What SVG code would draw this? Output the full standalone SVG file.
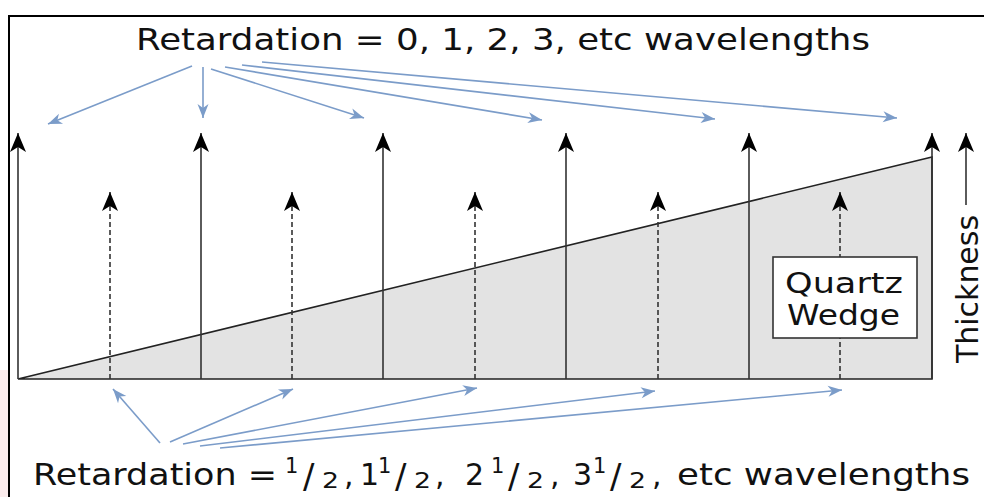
<svg xmlns="http://www.w3.org/2000/svg" width="984" height="497" viewBox="0 0 984 497">
<style>
.t{font-family:"DejaVu Sans","Liberation Sans",sans-serif;fill:#111;}
.sol{stroke:#333;stroke-width:1.6;fill:none;marker-end:url(#blk);}
.dash{stroke:#333;stroke-width:1.6;fill:none;stroke-dasharray:5 3;marker-end:url(#blk);}
.blue{stroke:#7b9cc9;stroke-width:1.6;fill:none;marker-end:url(#blu);}
.sl{font-size:34px;}
.sp{font-size:21px;}
.sb{font-size:22px;}
</style>
<defs>
<marker id="blk" markerUnits="userSpaceOnUse" viewBox="-20 -9 21 18" markerWidth="21" markerHeight="18" refX="0" refY="0" orient="auto" overflow="visible">
<path d="M0,0 L-19,-8 L-14,0 L-19,8 Z" fill="#000"/>
</marker>
<marker id="blu" markerUnits="userSpaceOnUse" viewBox="-14 -6 15 12" markerWidth="15" markerHeight="12" refX="0" refY="0" orient="auto" overflow="visible">
<path d="M0,0 L-14,-5.5 L-10,0 L-14,5.5 Z" fill="#7b9cc9"/>
</marker>
</defs>
<rect width="984" height="497" fill="#fff"/>
<rect x="0" y="370" width="8" height="127" fill="#fbeced"/>
<path d="M9,497 V16 H984" fill="none" stroke="#000" stroke-width="2"/>

<g id="wedge">
<polygon points="18,379 932,157 932,379" fill="#e3e3e3" stroke="#222" stroke-width="1.6"/>
</g>

<g id="connectors">
<line class="sol" x1="18" y1="379" x2="18" y2="133"/>
<line class="sol" x1="201" y1="379" x2="201" y2="133"/>
<line class="sol" x1="383" y1="379" x2="383" y2="133"/>
<line class="sol" x1="566" y1="379" x2="566" y2="133"/>
<line class="sol" x1="749" y1="379" x2="749" y2="133"/>
<line class="sol" x1="932" y1="379" x2="932" y2="133"/>
<line class="dash" x1="110" y1="379" x2="110" y2="192"/>
<line class="dash" x1="292" y1="379" x2="292" y2="192"/>
<line class="dash" x1="475" y1="379" x2="475" y2="192"/>
<line class="dash" x1="658" y1="379" x2="658" y2="192"/>
<line class="dash" x1="840" y1="379" x2="840" y2="192"/>
<line class="sol" x1="966" y1="205" x2="966" y2="133"/>

<line class="blue" x1="192" y1="66" x2="48" y2="124"/>
<line class="blue" x1="203" y1="67" x2="203" y2="118"/>
<line class="blue" x1="211" y1="69" x2="364" y2="118"/>
<line class="blue" x1="225" y1="67" x2="542" y2="120"/>
<line class="blue" x1="242" y1="65" x2="715" y2="119"/>
<line class="blue" x1="262" y1="62" x2="897" y2="118"/>

<line class="blue" x1="160" y1="443" x2="113" y2="389"/>
<line class="blue" x1="170" y1="442" x2="293" y2="389"/>
<line class="blue" x1="183" y1="444" x2="477" y2="388"/>
<line class="blue" x1="200" y1="446" x2="655" y2="391"/>
<line class="blue" x1="220" y1="448" x2="842" y2="390"/>
</g>

<g id="quartz-wedge">
<rect x="773" y="257" width="144" height="81" fill="#fff" stroke="#333" stroke-width="1.6"/>
<text class="t" x="785" y="293" font-size="29" textLength="118" lengthAdjust="spacingAndGlyphs">Quartz</text>
<text class="t" x="787" y="325" font-size="29" textLength="113" lengthAdjust="spacingAndGlyphs">Wedge</text>
</g>

<g id="thickness">
<text class="t" transform="translate(978,363) rotate(-90)" font-size="31" textLength="148" lengthAdjust="spacingAndGlyphs">Thickness</text>
</g>

<g id="top-label">
<text class="t" x="136" y="50" font-size="31" textLength="734" lengthAdjust="spacingAndGlyphs">Retardation = 0, 1, 2, 3, etc wavelengths</text>
</g>

<g id="bottom-label">
<text class="t" font-size="30" y="485">
<tspan x="33" textLength="244" lengthAdjust="spacingAndGlyphs">Retardation =</tspan>
<tspan class="sp" x="285" y="473">1</tspan>
<tspan class="sl" x="303" y="488">/</tspan>
<tspan class="sb" x="322" y="488" textLength="17" lengthAdjust="spacingAndGlyphs">2</tspan>
<tspan x="344" y="485">,</tspan>
<tspan x="360" y="485">1</tspan>
<tspan class="sp" x="378" y="473">1</tspan>
<tspan class="sl" x="395" y="488">/</tspan>
<tspan class="sb" x="414" y="488" textLength="17" lengthAdjust="spacingAndGlyphs">2</tspan>
<tspan x="435" y="485">,</tspan>
<tspan x="465" y="485">2</tspan>
<tspan class="sp" x="491" y="473">1</tspan>
<tspan class="sl" x="508" y="488">/</tspan>
<tspan class="sb" x="527" y="488" textLength="17" lengthAdjust="spacingAndGlyphs">2</tspan>
<tspan x="550" y="485">,</tspan>
<tspan x="573" y="485">3</tspan>
<tspan class="sp" x="593" y="473">1</tspan>
<tspan class="sl" x="610" y="488">/</tspan>
<tspan class="sb" x="629" y="488" textLength="17" lengthAdjust="spacingAndGlyphs">2</tspan>
<tspan x="652" y="485">,</tspan>
<tspan x="677" y="485" textLength="293" lengthAdjust="spacingAndGlyphs">etc wavelengths</tspan>
</text>
</g>
</svg>
